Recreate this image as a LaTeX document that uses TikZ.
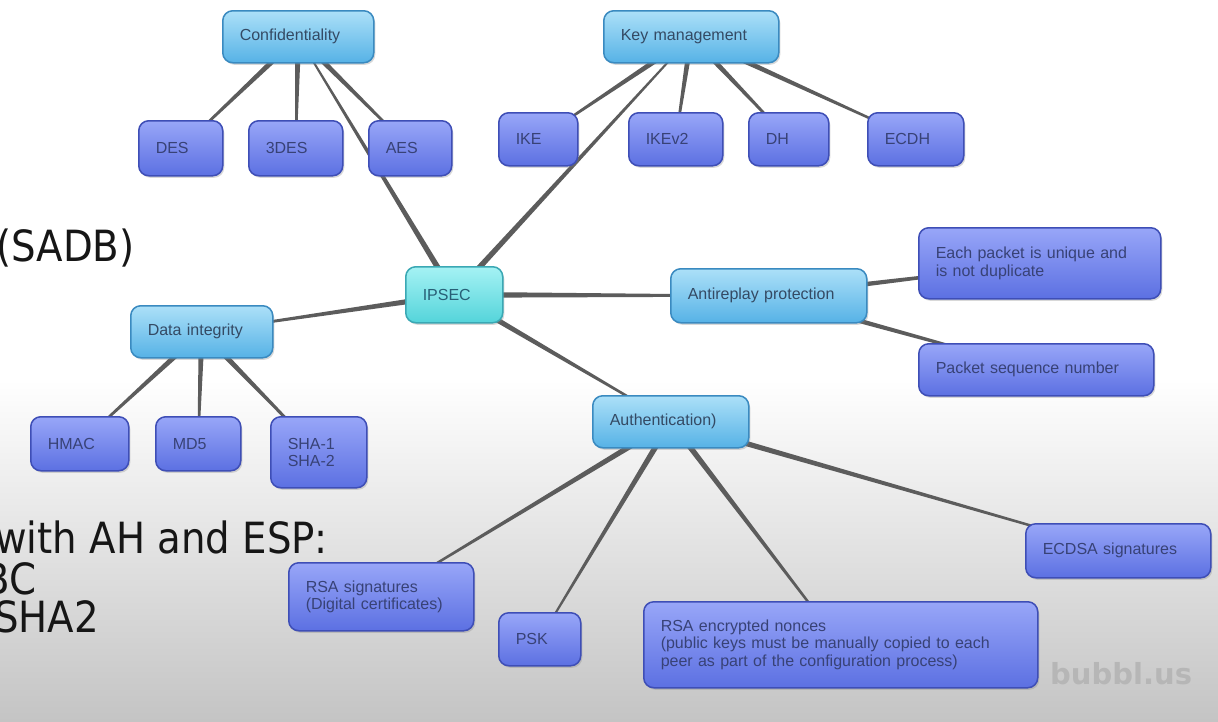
\documentclass[tikz,border=0pt]{standalone}
\usepackage{fontspec}
\setmainfont{Liberation Sans}
\newfontfamily\bigfont[FakeStretch=0.9]{DejaVu Sans}
\newfontfamily\wmfont{DejaVu Sans}
\usetikzlibrary{shadows,calc}
\definecolor{lvltop}{RGB}{172,224,248}
\definecolor{lvlbot}{RGB}{86,178,230}
\definecolor{lvlborder}{RGB}{58,138,192}
\definecolor{lvltext}{RGB}{52,74,100}
\definecolor{leaftop}{RGB}{152,166,248}
\definecolor{leafbot}{RGB}{92,112,226}
\definecolor{leafborder}{RGB}{62,78,182}
\definecolor{leaftext}{RGB}{56,66,118}
\definecolor{iptop}{RGB}{165,242,244}
\definecolor{ipbot}{RGB}{84,212,218}
\definecolor{ipborder}{RGB}{58,168,180}
\definecolor{iptext}{RGB}{40,95,118}
\definecolor{edgecol}{RGB}{92,92,92}
\definecolor{bgbot}{RGB}{196,196,196}
\definecolor{bigtext}{RGB}{22,22,22}
\definecolor{wmcol}{RGB}{182,182,182}
\pgfdeclarelayer{bg}
\pgfdeclarelayer{edges}
\pgfsetlayers{bg,edges,main}
\newcommand\conn[2]{%
  \path let \p1=(#1.center), \p2=(#2.center), \n1={atan2(\y2-\y1,\x2-\x1)} in
    [fill=edgecol] ($(\p1)+(\n1+90:3pt)$) -- ($(\p2)+(\n1+90:0.8pt)$)
    -- ($(\p2)+(\n1-90:0.8pt)$) -- ($(\p1)+(\n1-90:3pt)$) -- cycle;}
\tikzset{
  nodebase/.style={rounded corners=10pt, line width=1.5pt, anchor=north west,
    inner xsep=17pt, inner ysep=0pt, align=left,
    font=\fontsize{16}{17.5}\selectfont,
    drop shadow={shadow xshift=1.5pt, shadow yshift=-2pt, opacity=0.3}},
  lvl/.style={nodebase, draw=lvlborder, top color=lvltop, bottom color=lvlbot, text=lvltext},
  leaf/.style={nodebase, draw=leafborder, top color=leaftop, bottom color=leafbot, text=leaftext},
  root/.style={nodebase, draw=ipborder, top color=iptop, bottom color=ipbot, text=iptext},
  bigtxt/.style={anchor=base west, inner sep=0pt, text=bigtext, font=\bigfont\fontsize{43}{50}\selectfont},
  wmark/.style={anchor=base west, inner sep=0pt, text=wmcol, font=\wmfont\bfseries\fontsize{29}{32}\selectfont}
}
\begin{document}
\begin{tikzpicture}[x=1pt,y=-1pt]
\useasboundingbox (0,0) rectangle (1218,721);
\clip (0,0) rectangle (1218,721);
\begin{pgfonlayer}{bg}
  \fill[white] (0,0) rectangle (1218,721);
  \shade[top color=white, bottom color=bgbot] (0,380) rectangle (1218,721);
\end{pgfonlayer}

% left slide text (cut off at the left edge, as in the reference)
\node[bigtxt] (sadb) at (-4,261) {(SADB)};
\node[bigtxt] (ahesp) at (-5,553) {with AH and ESP:};
\node[bigtxt] (cbc) at (-17,594) {BC};
\node[bigtxt] (sha2) at (-6,632) {SHA2};

% nodes
\node[root, text width=63pt, minimum height=56pt] (ipsec) at (405,266) {IPSEC};

\node[lvl, text width=117pt, minimum height=52pt] (conf) at (222,10) {Confidentiality};
\node[leaf, text width=50pt, minimum height=55pt] (des) at (138,120) {DES};
\node[leaf, text width=60pt, minimum height=55pt] (tdes) at (248,120) {3DES};
\node[leaf, text width=49pt, minimum height=55pt] (aes) at (368,120) {AES};

\node[lvl, text width=141pt, minimum height=52pt] (km) at (603,10) {Key management};
\node[leaf, text width=45pt, minimum height=53pt] (ike) at (498,112) {IKE};
\node[leaf, text width=60pt, minimum height=53pt] (ikev2) at (628,112) {IKEv2};
\node[leaf, text width=46pt, minimum height=53pt] (dh) at (748,112) {DH};
\node[leaf, text width=62pt, minimum height=53pt] (ecdh) at (867,112) {ECDH};

\node[lvl, text width=108pt, minimum height=52pt] (di) at (130,305) {Data integrity};
\node[leaf, text width=64pt, minimum height=54pt] (hmac) at (30,416) {HMAC};
\node[leaf, text width=51pt, minimum height=54pt] (md5) at (155,416) {MD5};
\node[leaf, text width=62pt, minimum height=71pt] (sha) at (270,416) {SHA-1\\SHA-2};

\node[lvl, text width=162pt, minimum height=54pt] (anti) at (670,268) {Antireplay protection};
\node[leaf, text width=208pt, minimum height=71pt] (each) at (918,227) {Each packet is unique and\\is not duplicate};
\node[leaf, text width=201pt, minimum height=52pt] (pseq) at (918,343) {Packet sequence number};

\node[lvl, text width=122pt, minimum height=52pt] (auth) at (592,395) {Authentication)};
\node[leaf, text width=151pt, minimum height=54pt] (ecdsa) at (1025,523) {ECDSA signatures};
\node[leaf, text width=151pt, minimum height=68pt] (rsasig) at (288,562) {RSA signatures\\(Digital certificates)};
\node[leaf, text width=48pt, minimum height=53pt] (psk) at (498,612) {PSK};
\node[leaf, text width=360pt, minimum height=86pt] (rsanon) at (643,601) {RSA encrypted nonces\\(public keys must be manually copied to each\\peer as part of the configuration process)};

% watermark
\node[wmark] (wm) at (1050,684) {bubbl.us};

% connectors
\begin{pgfonlayer}{edges}
  \conn{ipsec}{conf}
  \conn{ipsec}{km}
  \conn{ipsec}{di}
  \conn{ipsec}{anti}
  \conn{ipsec}{auth}
  \conn{conf}{des}
  \conn{conf}{tdes}
  \conn{conf}{aes}
  \conn{km}{ike}
  \conn{km}{ikev2}
  \conn{km}{dh}
  \conn{km}{ecdh}
  \conn{di}{hmac}
  \conn{di}{md5}
  \conn{di}{sha}
  \conn{anti}{each}
  \conn{anti}{pseq}
  \conn{auth}{rsasig}
  \conn{auth}{psk}
  \conn{auth}{rsanon}
  \conn{auth}{ecdsa}
\end{pgfonlayer}
\end{tikzpicture}
\end{document}
